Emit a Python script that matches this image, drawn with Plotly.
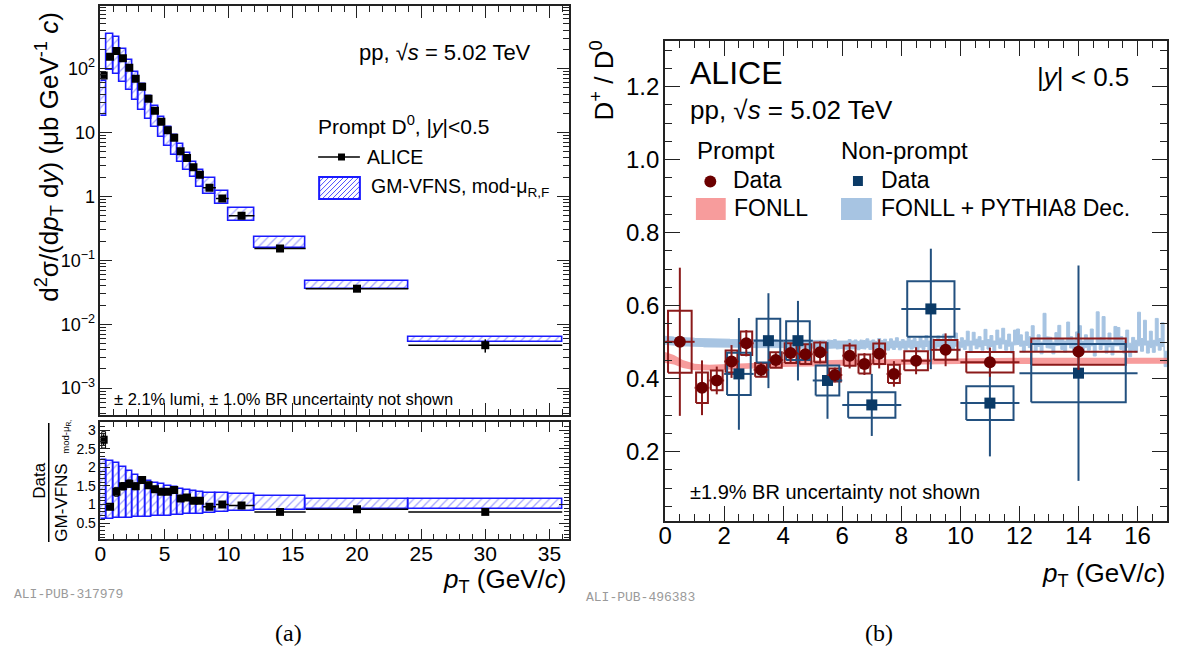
import plotly.graph_objects as go

W, H = 1182, 653
def PX(x): return x / W
def PY(y): return 1 - y / H

FONT = "Liberation Sans, Arial, sans-serif"

# ---------------- Left panel (a): prompt D0 cross section ----------------
bin_lo = [0, 0.5, 1, 1.5, 2, 2.5, 3, 3.5, 4, 4.5, 5, 5.5, 6, 6.5, 7, 7.5, 8, 9, 10, 12, 16, 24]
bin_hi = [0.5, 1, 1.5, 2, 2.5, 3, 3.5, 4, 4.5, 5, 5.5, 6, 6.5, 7, 7.5, 8, 9, 10, 12, 16, 24, 36]
xsec = [78, 154, 188, 145, 103, 69.5, 52, 33.8, 21.9, 14.8, 10.9, 8.3, 5.1, 4.0, 2.87, 2.19,
        1.37, 0.93, 0.50, 0.153, 0.036, 0.0047]
xsec_stat = [6, 8, 8, 5, 3.5, 2.2, 1.6, 1.0, 0.7, 0.45, 0.35, 0.26, 0.17, 0.13, 0.1, 0.08,
             0.05, 0.035, 0.022, 0.008, 0.0025, 0.0011]
gmvfns_hi = [63, 353, 310, 200, 135, 88, 58, 37.2, 25.6, 17.8, 12.4, 9.3, 6.5, 4.7, 3.4, 2.55,
             1.91, 1.20, 0.65, 0.234, 0.047, 0.0064]
gmvfns_lo = [18, 95, 81, 61.5, 45.5, 31.8, 22.2, 16.0, 12.0, 8.4, 6.1, 4.5, 3.4, 2.55, 1.98, 1.43,
             1.11, 0.75, 0.42, 0.157, 0.036, 0.0052]

ratio_data = [2.74, 0.94, 1.34, 1.49, 1.56, 1.49, 1.66, 1.52, 1.41, 1.34, 1.34, 1.39, 1.16, 1.19,
              1.10, 1.10, 0.94, 1.00, 0.97, 0.80, 0.87, 0.80]
ratio_stat = [0.15, 0.05, 0.06, 0.05, 0.05, 0.05, 0.05, 0.04, 0.04, 0.04, 0.04, 0.04, 0.04, 0.04,
              0.04, 0.04, 0.03, 0.03, 0.03, 0.03, 0.04, 0.07]
ratio_syst = [0.22, 0.08, 0.12, 0.10, 0.10, 0.09, 0.09, 0.08, 0.08, 0.07, 0.07, 0.07, 0.06, 0.06,
              0.06, 0.06, 0.05, 0.05, 0.05, 0.04, 0.05, 0.05]
ratio_band_hi = [2.20, 2.18, 2.11, 2.00, 1.90, 1.79, 1.70, 1.64, 1.58, 1.54, 1.49, 1.46, 1.42, 1.39,
                 1.36, 1.34, 1.31, 1.30, 1.28, 1.22, 1.16, 1.135]
ratio_band_lo = [0.62, 0.62, 0.63, 0.63, 0.64, 0.65, 0.66, 0.67, 0.68, 0.69, 0.70, 0.71, 0.72, 0.73,
                 0.74, 0.75, 0.78, 0.80, 0.83, 0.85, 0.87, 0.89]

logy_tickvals = [1e-3, 1e-2, 1e-1, 1, 10, 100]
logy_ticktext = ["10<sup>−3</sup>", "10<sup>−2</sup>", "10<sup>−1</sup>", "1", "10", "10<sup>2</sup>"]

# ---------------- Right panel (b): D+/D0 ratio ----------------
pr_x = [0.5, 1.25, 1.75, 2.25, 2.75, 3.25, 3.75, 4.25, 4.75, 5.25, 5.75, 6.25, 6.75, 7.25, 7.75,
        8.5, 9.5, 11, 14]
pr_hw = [0.5, 0.25, 0.25, 0.25, 0.25, 0.25, 0.25, 0.25, 0.25, 0.25, 0.25, 0.25, 0.25, 0.25, 0.25,
         0.5, 0.5, 1, 2]
pr_y = [0.501, 0.375, 0.395, 0.447, 0.497, 0.424, 0.451, 0.470, 0.467, 0.472, 0.410, 0.463, 0.440,
        0.468, 0.413, 0.449, 0.479, 0.445, 0.474]
pr_stat = [0.203, 0.075, 0.038, 0.045, 0.036, 0.02, 0.02, 0.025, 0.025, 0.03, 0.02, 0.035, 0.03,
           0.04, 0.035, 0.037, 0.045, 0.04, 0.05]
pr_syst = [0.085, 0.042, 0.027, 0.03, 0.032, 0.019, 0.021, 0.027, 0.027, 0.027, 0.018, 0.028,
           0.026, 0.028, 0.025, 0.026, 0.027, 0.028, 0.036]

np_x = [2.5, 3.5, 4.5, 5.5, 7, 9, 11, 14]
np_hw = [0.5, 0.5, 0.5, 0.5, 1, 1, 1, 2]
np_y = [0.413, 0.504, 0.504, 0.395, 0.328, 0.591, 0.333, 0.415]
np_stat = [0.153, 0.13, 0.109, 0.105, 0.085, 0.165, 0.146, 0.295]
np_syst = [0.058, 0.06, 0.053, 0.041, 0.035, 0.076, 0.046, 0.08]

fonll_x = [0, 0.3, 0.6, 1.0, 1.5, 2, 3, 4, 5, 6, 8, 10, 12, 14, 17]
fonll_c = [0.458, 0.452, 0.440, 0.432, 0.430, 0.432, 0.436, 0.440, 0.442, 0.444, 0.446, 0.448,
           0.449, 0.449, 0.449]
fonll_hw = [0.015, 0.013, 0.011, 0.009, 0.008, 0.008, 0.008, 0.008, 0.008, 0.008, 0.008, 0.008,
            0.008, 0.008, 0.008]

# FONLL + PYTHIA8 decays (non-prompt): band edges in 0.1 GeV/c bins from 0 to 17
npfonll_hi = [
    0.516, 0.515, 0.514, 0.513, 0.513, 0.512, 0.512, 0.511, 0.511, 0.511,
    0.510, 0.510, 0.510, 0.509, 0.509, 0.509, 0.509, 0.508, 0.508, 0.508,
    0.508, 0.508, 0.507, 0.508, 0.507, 0.507, 0.508, 0.507, 0.507, 0.506,
    0.507, 0.506, 0.507, 0.506, 0.507, 0.506, 0.506, 0.507, 0.505, 0.506,
    0.506, 0.505, 0.507, 0.505, 0.506, 0.505, 0.504, 0.506, 0.505, 0.505,
    0.504, 0.506, 0.504, 0.505, 0.503, 0.506, 0.504, 0.507, 0.503, 0.505,
    0.504, 0.503, 0.507, 0.503, 0.506, 0.502, 0.506, 0.504, 0.509, 0.503,
    0.506, 0.502, 0.510, 0.504, 0.508, 0.501, 0.509, 0.503, 0.512, 0.502,
    0.507, 0.503, 0.513, 0.505, 0.510, 0.502, 0.515, 0.504, 0.518, 0.503,
    0.510, 0.502, 0.517, 0.505, 0.522, 0.503, 0.512, 0.506, 0.525, 0.501,
    0.512, 0.505, 0.530, 0.503, 0.527, 0.508, 0.515, 0.504, 0.535, 0.507,
    0.518, 0.503, 0.533, 0.511, 0.538, 0.505, 0.522, 0.500, 0.533, 0.536,
    0.520, 0.503, 0.528, 0.515, 0.545, 0.505, 0.520, 0.500, 0.579, 0.515,
    0.513, 0.500, 0.526, 0.546, 0.510, 0.503, 0.555, 0.515, 0.506, 0.528,
    0.545, 0.503, 0.520, 0.510, 0.536, 0.495, 0.583, 0.513, 0.570, 0.505,
    0.525, 0.500, 0.543, 0.540, 0.515, 0.503, 0.533, 0.497, 0.513, 0.505,
    0.582, 0.510, 0.560, 0.503, 0.530, 0.505, 0.565, 0.510, 0.553, 0.475,
]
npfonll_lo = [
    0.494, 0.493, 0.492, 0.491, 0.491, 0.490, 0.490, 0.489, 0.489, 0.489,
    0.488, 0.488, 0.488, 0.487, 0.487, 0.487, 0.487, 0.486, 0.486, 0.486,
    0.486, 0.486, 0.485, 0.486, 0.485, 0.485, 0.486, 0.485, 0.485, 0.484,
    0.485, 0.484, 0.485, 0.484, 0.485, 0.484, 0.484, 0.485, 0.483, 0.484,
    0.484, 0.483, 0.485, 0.483, 0.484, 0.483, 0.482, 0.484, 0.483, 0.483,
    0.482, 0.484, 0.482, 0.483, 0.481, 0.483, 0.482, 0.484, 0.481, 0.483,
    0.482, 0.480, 0.484, 0.481, 0.483, 0.479, 0.483, 0.481, 0.485, 0.480,
    0.483, 0.479, 0.485, 0.481, 0.484, 0.478, 0.484, 0.480, 0.486, 0.479,
    0.484, 0.479, 0.486, 0.481, 0.485, 0.478, 0.486, 0.480, 0.488, 0.478,
    0.485, 0.477, 0.487, 0.480, 0.488, 0.478, 0.485, 0.481, 0.489, 0.476,
    0.486, 0.480, 0.490, 0.476, 0.492, 0.482, 0.487, 0.478, 0.491, 0.481,
    0.488, 0.474, 0.493, 0.483, 0.495, 0.478, 0.489, 0.470, 0.492, 0.494,
    0.489, 0.473, 0.491, 0.485, 0.496, 0.476, 0.488, 0.468, 0.497, 0.485,
    0.483, 0.468, 0.490, 0.492, 0.480, 0.472, 0.493, 0.484, 0.474, 0.488,
    0.490, 0.470, 0.485, 0.478, 0.490, 0.462, 0.495, 0.480, 0.492, 0.470,
    0.487, 0.465, 0.490, 0.490, 0.480, 0.470, 0.486, 0.460, 0.478, 0.472,
    0.490, 0.475, 0.492, 0.470, 0.485, 0.472, 0.490, 0.478, 0.488, 0.433,
]
npfonll_bin_width = 0.1

# ---------------- colours ----------------
BLUE = "#1a1aff"
BLUE_HATCH = "#5050ff"
RED_M = "#6b0000"
RED_L = "#8b1a1a"
NAVY_M = "#0b3a66"
NAVY_L = "#22507f"
PINK = "rgba(245,128,128,0.78)"
LBLUE = "#a7c4e2"

fig = go.Figure()

bin_c = [(a + b) / 2 for a, b in zip(bin_lo, bin_hi)]
bin_w = [b - a for a, b in zip(bin_lo, bin_hi)]
bin_hw = [w / 2 for w in bin_w]

hatch = dict(shape="/", fgcolor=BLUE_HATCH, bgcolor="rgba(0,0,0,0)", size=6, solidity=0.22,
             fillmode="overlay")

# GM-VFNS boxes (top)
fig.add_trace(go.Bar(
    x=bin_c, y=[h - l for h, l in zip(gmvfns_hi, gmvfns_lo)], base=gmvfns_lo, width=bin_w,
    xaxis="x", yaxis="y",
    marker=dict(color="rgba(0,0,0,0)", line=dict(color=BLUE, width=1.6), pattern=hatch),
    showlegend=False, hoverinfo="skip"))
# GM-VFNS band in ratio
fig.add_trace(go.Bar(
    x=bin_c, y=[h - l for h, l in zip(ratio_band_hi, ratio_band_lo)], base=ratio_band_lo,
    width=bin_w, xaxis="x2", yaxis="y2",
    marker=dict(color="rgba(0,0,0,0)", line=dict(color=BLUE, width=1.6), pattern=hatch),
    showlegend=False, hoverinfo="skip"))

# FONLL+PYTHIA8 non-prompt histogram band (step-shaped filled area)
hx, hy = [], []
for i, v in enumerate(npfonll_hi):
    hx += [i * npfonll_bin_width, (i + 1) * npfonll_bin_width]
    hy += [v, v]
for i in range(len(npfonll_lo) - 1, -1, -1):
    hx += [(i + 1) * npfonll_bin_width, i * npfonll_bin_width]
    hy += [npfonll_lo[i], npfonll_lo[i]]
fig.add_trace(go.Scatter(
    x=hx, y=hy, mode="lines", fill="toself", fillcolor=LBLUE,
    line=dict(color=LBLUE, width=1), xaxis="x3", yaxis="y3", showlegend=False, hoverinfo="skip"))

# FONLL prompt band
fig.add_trace(go.Scatter(
    x=fonll_x + fonll_x[::-1],
    y=[c + h for c, h in zip(fonll_c, fonll_hw)] + [c - h for c, h in zip(fonll_c, fonll_hw)][::-1],
    fill="toself", fillcolor=PINK, line=dict(width=0), mode="lines",
    xaxis="x3", yaxis="y3", showlegend=False, hoverinfo="skip"))


def box_path(xc, hw, yc, eh, frac=1.0):
    xs, ys = [], []
    for x, w, y, e in zip(xc, hw, yc, eh):
        l, r = x - w * frac, x + w * frac
        xs += [l, r, r, l, l, None]
        ys += [y - e, y - e, y + e, y + e, y - e, None]
    return xs, ys


# data syst boxes in ratio
bx, by = box_path(bin_c, [0.15] * len(bin_c), ratio_data, ratio_syst)
fig.add_trace(go.Scatter(x=bx, y=by, mode="lines", line=dict(color="black", width=1),
                         xaxis="x2", yaxis="y2", showlegend=False, hoverinfo="skip"))

# ALICE data (top)
fig.add_trace(go.Scatter(
    x=bin_c, y=xsec, mode="markers", xaxis="x", yaxis="y",
    marker=dict(symbol="square", size=8, color="black"),
    error_x=dict(type="data", array=bin_hw, width=0, thickness=1.5, color="black"),
    error_y=dict(type="data", array=xsec_stat, width=0, thickness=1.5, color="black"),
    showlegend=False, hoverinfo="skip"))
# ratio data
fig.add_trace(go.Scatter(
    x=bin_c, y=ratio_data, mode="markers", xaxis="x2", yaxis="y2",
    marker=dict(symbol="square", size=8, color="black"),
    error_x=dict(type="data", array=bin_hw, width=0, thickness=1.5, color="black"),
    error_y=dict(type="data", array=ratio_stat, width=0, thickness=1.5, color="black"),
    showlegend=False, hoverinfo="skip"))

# right panel syst boxes
bx, by = box_path(pr_x, pr_hw, pr_y, pr_syst, frac=0.8)
fig.add_trace(go.Scatter(x=bx, y=by, mode="lines", line=dict(color=RED_L, width=2),
                         xaxis="x3", yaxis="y3", showlegend=False, hoverinfo="skip"))
bx, by = box_path(np_x, np_hw, np_y, np_syst, frac=0.8)
fig.add_trace(go.Scatter(x=bx, y=by, mode="lines", line=dict(color=NAVY_L, width=2),
                         xaxis="x3", yaxis="y3", showlegend=False, hoverinfo="skip"))
# non-prompt data
fig.add_trace(go.Scatter(
    x=np_x, y=np_y, mode="markers", xaxis="x3", yaxis="y3",
    marker=dict(symbol="square", size=11, color=NAVY_M),
    error_x=dict(type="data", array=np_hw, width=0, thickness=2, color=NAVY_L),
    error_y=dict(type="data", array=np_stat, width=0, thickness=2, color=NAVY_L),
    showlegend=False, hoverinfo="skip"))
# prompt data
fig.add_trace(go.Scatter(
    x=pr_x, y=pr_y, mode="markers", xaxis="x3", yaxis="y3",
    marker=dict(symbol="circle", size=12, color=RED_M),
    error_x=dict(type="data", array=pr_hw, width=0, thickness=2, color=RED_L),
    error_y=dict(type="data", array=pr_stat, width=0, thickness=2, color=RED_L),
    showlegend=False, hoverinfo="skip"))


def axis(**kw):
    d = dict(showgrid=False, zeroline=False, showline=True, linecolor="#222", linewidth=1.5,
             mirror="allticks", ticks="inside", tickcolor="#222", tickwidth=1.2,
             tickfont=dict(family=FONT, size=18, color="black"))
    d.update(kw)
    return d


minor_log = [k * 10.0 ** e for e in range(-4, 3) for k in range(2, 10)]

fig.update_layout(
    width=W, height=H, margin=dict(l=0, r=0, t=0, b=0),
    paper_bgcolor="white", plot_bgcolor="white", barmode="overlay", bargap=0,
    xaxis=axis(domain=[PX(94), PX(565)], range=[0, 36.5], anchor="y", tick0=0, dtick=5,
               ticklen=12, showticklabels=False,
               minor=dict(ticks="inside", dtick=1, ticklen=6, tickcolor="#222")),
    yaxis=axis(domain=[PY(415), PY(6)], type="log", range=[-3.42, 2.98], anchor="x",
               tickmode="array", tickvals=logy_tickvals, ticktext=logy_ticktext, ticklen=12,
               minor=dict(ticks="inside", tickmode="array", tickvals=minor_log, ticklen=6,
                          tickcolor="#222")),
    xaxis2=axis(domain=[PX(94), PX(565)], range=[0, 36.5], anchor="y2", tick0=0, dtick=5,
                ticklen=10, ticklabelstandoff=-5,
                tickfont=dict(family=FONT, size=21, color="black"),
                minor=dict(ticks="inside", dtick=1, ticklen=5, tickcolor="#222")),
    yaxis2=axis(domain=[PY(539), PY(422)], range=[0.07, 3.22], anchor="x2", tick0=0, dtick=0.5,
                ticklen=10, tickfont=dict(family=FONT, size=14, color="black"),
                minor=dict(ticks="inside", dtick=0.1, ticklen=5, tickcolor="#222")),
    xaxis3=axis(domain=[PX(662), PX(1167)], range=[0, 17], anchor="y3", tick0=0, dtick=2,
                ticklen=15, linewidth=2, ticklabelstandoff=-8,
                tickfont=dict(family=FONT, size=24, color="black"),
                minor=dict(ticks="inside", dtick=0.5, ticklen=7, tickcolor="#222")),
    yaxis3=axis(domain=[PY(521), PY(41)], range=[0.01, 1.325], anchor="x3", tick0=0, dtick=0.2,
                tickformat=".1f", ticklen=15, linewidth=2, ticklabelstandoff=-1,
                tickfont=dict(family=FONT, size=24, color="black"),
                minor=dict(ticks="inside", dtick=0.05, ticklen=7, tickcolor="#222")),
)

ann = []
def A(text, x, y, size, xanchor="left", yanchor="middle", angle=0, color="black", family=FONT):
    ann.append(dict(text=text, x=PX(x), y=PY(y), xref="paper", yref="paper", showarrow=False,
                    xanchor=xanchor, yanchor=yanchor, textangle=angle,
                    font=dict(family=family, size=size, color=color)))

# left panel texts
A("d<sup>2</sup>σ/(d<i>p</i><sub>T</sub> d<i>y</i>) (μb GeV<sup>-1</sup> <i>c</i>)", 42, 157, 26,
  xanchor="center", angle=-90)
A("pp, √<i>s</i> = 5.02 TeV", 352, 53, 22)
A("Prompt D<sup>0</sup>, |<i>y</i>|<0.5", 311, 125, 21)
A("ALICE", 360, 157, 19.5)
A("GM-VFNS, mod-μ<sub>R,F</sub>", 364, 187, 19.5)
A("± 2.1% lumi, ± 1.0% BR uncertainty not shown", 106, 399, 16.5)
A("Data", 32, 481, 17, xanchor="center", angle=-90)
A("GM-VFNS", 54, 503, 17, xanchor="center", angle=-90)
A("mod-μ<sub>R,</sub>", 59, 437, 9.5, xanchor="center", angle=-90)
A("<i>p</i><sub>T</sub> (GeV/<i>c</i>)", 564, 580, 26, xanchor="right")
A("ALI-PUB-317979", 5, 594, 13, color="#9a9a9a", family="Liberation Mono, Courier New, monospace")
A("(a)", 283, 633, 24, xanchor="center", family="Liberation Serif, DejaVu Serif, serif")

# right panel texts
A("D<sup>+</sup> / D<sup>0</sup>", 600, 80, 26, xanchor="center", angle=-90)
A("ALICE", 685, 73, 32)
A("pp, √<i>s</i> = 5.02 TeV", 685, 110, 26)
A("|<i>y</i>| < 0.5", 1131, 77, 26, xanchor="right")
A("Prompt", 692, 150, 24)
A("Non-prompt", 837, 150, 24)
A("Data", 728, 180, 23)
A("Data", 877, 180, 23)
A("FONLL", 729, 208, 23)
A("FONLL + PYTHIA8 Dec.", 877, 208, 23)
A("±1.9% BR uncertainty not shown", 685, 492, 20)
A("<i>p</i><sub>T</sub> (GeV/<i>c</i>)", 1167, 574, 26, xanchor="right")
A("ALI-PUB-496383", 580, 597, 13, color="#9a9a9a", family="Liberation Mono, Courier New, monospace")
A("(b)", 877, 633, 24, xanchor="center", family="Liberation Serif, DejaVu Serif, serif")

fig.update_layout(annotations=ann)

shapes = []
def S(**kw):
    d = dict(xref="paper", yref="paper")
    for k in ("x0", "x1"):
        if k in kw: kw[k] = PX(kw[k])
    for k in ("y0", "y1"):
        if k in kw: kw[k] = PY(kw[k])
    d.update(kw)
    shapes.append(d)

# ratio title fraction line
S(type="line", x0=42, x1=42, y0=423, y1=542, line=dict(color="black", width=1.5))
# left legend: ALICE
S(type="line", x0=313, x1=355, y0=157, y1=157, line=dict(color="black", width=1.5))
S(type="rect", x0=333, x1=340, y0=153.5, y1=160.5, fillcolor="black", line=dict(width=0))
# left legend: hatched box
bx0, bx1, by0, by1 = 314, 355, 177, 199
hgt = by1 - by0
c = -hgt
while c < bx1 - bx0:
    xa = max(bx0, bx0 + c)
    xb = min(bx1, bx0 + c + hgt)
    if xa < xb:
        S(type="line", x0=xa, x1=xb, y0=by1 - (xa - bx0 - c), y1=by1 - (xb - bx0 - c),
          line=dict(color=BLUE_HATCH, width=1))
    c += 5
S(type="rect", x0=bx0, x1=bx1, y0=by0, y1=by1, line=dict(color=BLUE, width=2))
# right legend
S(type="circle", x0=701.5, x1=713.5, y0=175.5, y1=187.5, fillcolor=RED_M, line=dict(width=0))
S(type="rect", x0=851, x1=861, y0=176, y1=186, fillcolor=NAVY_M, line=dict(width=0))
S(type="rect", x0=693, x1=723, y0=198, y1=220, fillcolor=PINK, line=dict(width=0))
S(type="rect", x0=839, x1=870, y0=198, y1=220, fillcolor=LBLUE, line=dict(width=0))

fig.update_layout(shapes=shapes)

fig.write_html("out.html")
